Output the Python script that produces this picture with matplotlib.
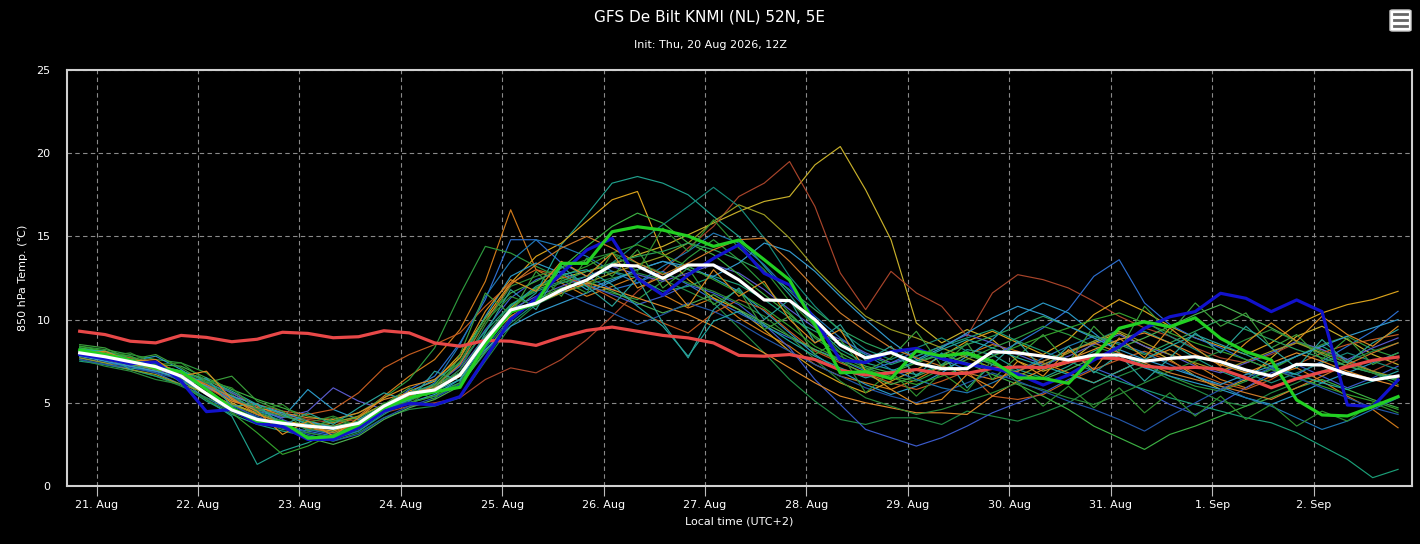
import pandas as pd
import matplotlib
matplotlib.use("Agg")
import matplotlib.pyplot as plt
import matplotlib.dates as mdates
from matplotlib.patches import FancyBboxPatch

plt.rcParams['font.family'] = ['DejaVu Sans', 'Noto Sans CJK SC']

# 6-hourly steps, local time (UTC+2), 20 Aug 20h .. 2 Sep 20h
times = pd.date_range("2026-08-20 20:00", periods=53, freq="6h")

# climatology (red)
clim = [9.3, 9.1, 8.7, 8.6, 9.05, 8.93, 8.67, 8.82, 9.24, 9.17, 8.91, 8.97, 9.33,
        9.2, 8.6, 8.4, 8.75, 8.7, 8.45, 8.95, 9.35, 9.55, 9.3, 9.05, 8.9, 8.6,
        7.85, 7.8, 7.9, 7.6, 6.97, 6.67, 6.8, 7.0, 6.75, 6.77, 7.07, 7.15, 7.12,
        7.45, 7.72, 7.65, 7.2, 7.07, 7.13, 7.03, 6.5, 5.9, 6.45, 6.85, 7.15, 7.55, 7.75]

# ensemble mean (white)
mean = [8.0, 7.77, 7.47, 7.17, 6.6, 5.55, 4.57, 4.0, 3.77, 3.6, 3.47, 3.77, 4.8,
        5.55, 5.77, 6.67, 8.77, 10.58, 10.98, 11.78, 12.38, 13.28, 13.22, 12.48, 13.28, 13.28,
        12.38, 11.18, 11.14, 10.0, 8.47, 7.7, 8.02, 7.37, 7.05, 7.05, 8.07, 8.0, 7.8,
        7.57, 7.87, 7.87, 7.5, 7.67, 7.77, 7.47, 6.97, 6.61, 7.31, 7.27, 6.73, 6.37, 6.61]

# operational run (green)
oper = [8.17, 7.9, 7.55, 7.07, 6.87, 5.8, 4.67, 3.9, 3.87, 2.87, 2.97, 3.67, 4.7,
        5.3, 5.67, 5.93, 8.5, 10.45, 10.98, 13.38, 13.38, 15.28, 15.58, 15.38, 15.02, 14.4,
        14.78, 13.6, 12.38, 9.7, 6.8, 6.87, 6.45, 8.12, 7.81, 7.99, 7.5, 6.5, 6.47,
        6.17, 7.77, 9.48, 9.87, 9.57, 10.11, 8.87, 8.07, 7.57, 5.17, 4.27, 4.21, 4.77, 5.37]

# control run (blue)
ctrl = [7.9, 7.65, 7.35, 7.45, 6.3, 4.47, 4.6, 3.77, 3.57, 2.8, 2.8, 3.5, 4.5,
        4.97, 4.87, 5.37, 7.67, 10.0, 11.28, 12.78, 14.18, 14.88, 12.48, 11.48, 12.68, 13.68,
        14.5, 12.78, 12.08, 10.0, 7.57, 7.42, 8.07, 8.27, 7.67, 7.32, 7.07, 6.72, 6.07,
        6.67, 7.57, 8.37, 9.48, 10.17, 10.48, 11.58, 11.28, 10.48, 11.18, 10.48, 4.87, 4.77, 6.37]

# ensemble members
m01 = [8.3, 8.0, 7.8, 7.2, 6.4, 5.2, 4.2, 1.3, 2.1, 2.6, 3.3, 3.9, 4.6,
       5.3, 5.6, 6.2, 8.4, 10.4, 11.6, 14.5, 16.3, 18.2, 18.6, 18.2, 17.5, 16.2,
       15.0, 13.2, 11.5, 9.6, 8.2, 7.4, 7.0, 6.7, 7.3, 8.2, 7.9, 7.0, 6.5,
       7.2, 8.1, 8.8, 9.3, 8.6, 7.7, 6.9, 6.3, 7.1, 7.8, 8.4, 7.6, 6.9, 6.4]
m02 = [8.1, 7.6, 7.2, 6.9, 6.5, 6.0, 5.0, 4.3, 3.9, 3.7, 3.5, 3.9, 4.8,
       5.6, 6.0, 6.8, 8.9, 10.7, 11.9, 12.5, 12.9, 13.3, 13.9, 14.4, 15.1, 15.8,
       16.5, 17.1, 17.4, 19.3, 20.4, 17.8, 14.8, 9.8, 8.6, 9.4, 8.8, 7.5, 6.9,
       7.4, 8.6, 9.2, 8.4, 7.6, 6.6, 5.8, 6.4, 7.7, 9.0, 9.6, 8.8, 7.9, 7.3]
m03 = [7.9, 7.6, 7.4, 7.0, 6.7, 5.9, 5.1, 4.6, 4.3, 4.0, 3.8, 4.0, 4.4,
       4.8, 5.0, 5.3, 6.4, 7.1, 6.8, 7.6, 8.8, 10.2, 11.7, 12.9, 14.3, 15.6,
       17.4, 18.2, 19.5, 16.8, 12.8, 10.6, 12.9, 11.6, 10.8, 9.0, 11.6, 12.7, 12.4,
       11.9, 11.1, 10.2, 9.5, 9.0, 8.3, 7.7, 7.4, 7.9, 8.6, 8.2, 7.5, 6.9, 7.6]
m04 = [8.2, 8.0, 7.5, 7.3, 6.9, 6.4, 5.6, 4.8, 4.2, 3.9, 3.6, 4.2, 5.4,
       6.6, 7.6, 9.4, 12.3, 16.6, 13.0, 12.2, 11.4, 12.0, 12.6, 11.5, 10.7, 11.3,
       10.1, 9.2, 8.4, 7.3, 6.6, 6.2, 5.8, 6.4, 7.2, 7.9, 8.5, 8.1, 7.4,
       6.8, 6.2, 6.9, 7.6, 8.2, 7.3, 6.4, 5.9, 6.6, 7.1, 6.3, 5.4, 4.6, 3.5]
m05 = [8.0, 7.8, 7.4, 7.1, 6.6, 5.6, 4.9, 4.4, 3.9, 3.5, 3.3, 3.8, 4.9,
       5.7, 6.3, 7.9, 10.1, 12.2, 13.8, 14.6, 15.9, 17.2, 17.7, 14.0, 12.4, 11.3,
       10.6, 9.4, 8.1, 7.0, 6.2, 5.6, 6.3, 7.0, 7.8, 8.7, 9.3, 8.6, 7.9,
       8.8, 10.3, 11.2, 10.5, 9.6, 8.9, 8.4, 7.9, 8.6, 9.7, 10.4, 10.9, 11.2, 11.7]
m06 = [7.7, 7.4, 7.2, 6.8, 6.1, 5.3, 4.5, 4.0, 3.6, 3.3, 3.0, 3.5, 4.6,
       5.8, 6.6, 8.6, 11.2, 14.8, 14.8, 13.4, 12.6, 11.8, 12.2, 12.9, 12.1, 11.2,
       10.4, 9.6, 8.9, 8.2, 7.6, 6.9, 7.4, 8.1, 7.6, 7.0, 7.8, 8.6, 9.5,
       10.6, 12.6, 13.6, 11.0, 9.7, 8.9, 8.3, 7.6, 7.0, 6.7, 7.5, 8.4, 9.3, 10.5]
m07 = [8.4, 8.2, 7.9, 7.6, 7.4, 6.8, 5.5, 4.4, 3.8, 3.6, 3.9, 4.4, 5.3,
       6.4, 8.3, 11.5, 14.4, 14.0, 13.2, 12.5, 12.0, 11.6, 11.2, 12.3, 13.7, 14.8,
       13.6, 12.1, 10.4, 8.9, 7.8, 7.1, 6.6, 6.3, 7.0, 7.6, 8.3, 8.9, 9.6,
       9.1, 8.4, 7.9, 7.3, 6.6, 6.0, 5.7, 6.3, 7.0, 7.8, 8.5, 9.0, 8.2, 7.7]
m08 = [7.6, 7.3, 7.0, 6.6, 6.0, 5.3, 4.7, 4.1, 3.5, 3.0, 2.7, 3.2, 4.1,
       4.6, 4.8, 5.3, 7.5, 9.6, 10.9, 11.6, 12.1, 12.5, 12.8, 12.4, 11.7, 11.0,
       9.5, 8.0, 6.4, 5.1, 4.0, 3.7, 4.1, 4.1, 3.7, 4.5, 4.2, 3.9, 4.4,
       5.0, 5.9, 6.6, 7.2, 6.4, 5.8, 5.1, 4.8, 5.6, 6.2, 6.9, 7.5, 8.1, 8.6]
m09 = [7.8, 7.6, 7.3, 7.0, 6.7, 6.2, 5.6, 4.7, 4.0, 3.4, 3.1, 3.6, 4.7,
       5.4, 6.0, 7.2, 9.4, 11.3, 12.4, 12.9, 12.1, 11.5, 10.9, 11.4, 12.1, 11.6,
       10.9, 9.7, 8.3, 6.4, 4.9, 3.4, 2.9, 2.4, 2.9, 3.6, 4.4, 5.0, 5.6,
       6.4, 7.1, 6.5, 5.7, 4.9, 4.3, 5.0, 5.9, 6.8, 7.3, 6.6, 5.9, 6.5, 7.2]
m10 = [8.0, 7.7, 7.5, 7.8, 7.0, 6.0, 5.2, 4.5, 4.1, 5.8, 4.6, 4.0, 4.8,
       5.6, 6.4, 7.4, 10.2, 12.6, 13.4, 12.8, 11.8, 12.4, 13.0, 13.5, 13.2, 12.5,
       11.7, 10.5, 9.2, 7.9, 6.9, 6.1, 5.5, 6.0, 6.8, 7.8, 8.8, 10.2, 11.0,
       10.4, 9.2, 8.0, 7.1, 6.6, 6.2, 5.8, 5.3, 4.9, 5.5, 6.2, 6.8, 7.4, 8.0]
m11 = [7.9, 7.7, 7.3, 7.0, 6.6, 5.9, 5.3, 4.6, 4.1, 4.5, 5.9, 5.1, 4.6,
       5.2, 5.8, 7.0, 9.0, 10.6, 11.4, 12.0, 12.6, 13.2, 12.7, 12.3, 12.8, 13.3,
       12.8, 11.8, 10.6, 9.5, 8.8, 8.0, 7.4, 7.8, 8.4, 9.1, 8.6, 7.9, 7.3,
       7.8, 8.5, 9.1, 8.4, 7.9, 7.2, 6.8, 7.4, 8.0, 8.7, 8.2, 7.6, 8.3, 8.9]
m12 = [8.3, 8.1, 7.7, 7.3, 7.2, 6.5, 5.8, 5.2, 4.7, 4.2, 3.9, 4.1, 4.9,
       5.5, 6.1, 7.7, 10.1, 11.6, 12.3, 13.1, 14.4, 15.6, 16.4, 15.8, 14.6, 13.9,
       12.7, 11.5, 10.3, 9.0, 8.0, 7.2, 6.8, 7.4, 7.9, 7.4, 6.7, 6.1, 5.4,
       4.6, 3.6, 2.9, 2.2, 3.1, 3.6, 4.2, 4.8, 5.3, 5.9, 6.4, 5.8, 5.2, 4.7]
m13 = [7.5, 7.3, 7.0, 6.6, 6.1, 5.1, 4.3, 3.7, 3.3, 3.0, 2.8, 3.3, 4.3,
       5.2, 5.9, 7.4, 9.3, 10.9, 11.7, 12.2, 12.6, 12.9, 12.5, 11.7, 12.0, 12.6,
       12.1, 11.2, 10.1, 9.3, 8.6, 7.9, 7.3, 7.8, 8.4, 8.9, 9.4, 8.7, 8.1,
       7.5, 6.9, 6.3, 5.8, 5.3, 4.9, 4.5, 4.1, 3.8, 3.2, 2.4, 1.6, 0.5, 1.0]
m14 = [8.1, 7.9, 7.7, 7.4, 6.8, 6.1, 5.4, 4.9, 4.5, 4.3, 4.6, 5.6, 7.1,
       7.9, 8.5, 9.2, 10.8, 12.2, 13.0, 12.6, 12.1, 11.3, 10.5, 9.8, 9.2, 10.4,
       11.2, 10.6, 9.3, 8.1, 7.4, 6.8, 6.2, 5.8, 6.3, 6.9, 5.4, 5.2, 5.5,
       6.3, 7.0, 7.6, 8.1, 7.5, 6.8, 6.2, 5.8, 6.4, 7.3, 8.0, 8.5, 8.8, 9.1]
m15 = [8.0, 7.9, 7.6, 7.2, 6.8, 6.2, 5.3, 4.5, 3.9, 3.4, 3.2, 3.6, 4.5,
       5.0, 5.4, 6.1, 8.0, 9.8, 11.0, 11.8, 12.4, 13.4, 14.6, 15.7, 16.8, 17.95,
       16.8, 14.9, 12.6, 10.8, 9.3, 8.2, 7.6, 8.3, 8.9, 8.1, 7.3, 6.9, 7.5,
       8.1, 8.7, 9.4, 9.9, 9.0, 8.2, 7.4, 6.8, 6.2, 6.8, 7.4, 8.0, 7.5, 7.0]
m16 = [7.9, 7.5, 7.1, 6.9, 6.4, 5.5, 4.9, 4.1, 3.7, 3.2, 2.9, 3.3, 4.4,
       5.3, 6.2, 8.5, 11.4, 13.5, 14.8, 14.4, 13.8, 12.9, 12.2, 13.2, 14.1, 15.2,
       14.6, 13.3, 11.7, 10.2, 8.9, 7.9, 7.0, 6.4, 5.9, 5.6, 6.2, 6.9, 7.7,
       8.4, 9.0, 8.6, 8.0, 7.3, 6.6, 6.0, 5.3, 4.8, 4.1, 3.4, 3.9, 4.6, 5.3]
m17 = [8.2, 7.9, 7.3, 7.0, 6.3, 5.5, 4.6, 3.9, 3.5, 2.9, 2.5, 3.0, 4.0,
       4.7, 5.2, 6.0, 8.1, 10.0, 11.2, 11.9, 12.3, 11.7, 11.0, 10.4, 10.9, 11.5,
       10.6, 9.8, 9.0, 8.2, 7.5, 6.7, 6.1, 6.6, 7.2, 7.9, 7.3, 6.8, 6.4,
       7.0, 7.7, 8.3, 8.9, 9.6, 10.3, 10.9, 10.2, 9.5, 8.7, 7.9, 7.2, 6.8, 6.4]
m18 = [7.7, 7.4, 7.0, 6.7, 6.1, 5.6, 4.9, 4.3, 3.8, 3.5, 3.8, 4.2, 4.9,
       5.3, 5.7, 6.6, 8.8, 10.2, 11.0, 11.6, 12.2, 12.8, 13.3, 13.8, 14.6, 15.9,
       16.9, 16.3, 14.9, 13.1, 11.6, 10.2, 9.4, 8.9, 8.3, 7.7, 7.1, 6.6, 7.3,
       8.0, 8.7, 9.3, 8.6, 7.9, 7.4, 6.9, 7.5, 8.1, 8.6, 8.0, 7.4, 6.9, 6.5]
m19 = [8.0, 7.8, 7.5, 7.2, 6.9, 6.3, 5.4, 4.6, 4.2, 3.8, 3.6, 3.9, 4.9,
       5.6, 6.1, 6.8, 9.0, 10.9, 11.8, 12.3, 12.9, 13.4, 13.8, 14.1, 14.6, 14.2,
       13.6, 12.9, 11.8, 10.6, 9.4, 8.6, 8.0, 7.5, 7.9, 8.5, 9.0, 9.6, 10.2,
       9.6, 9.0, 8.5, 7.9, 8.6, 9.3, 10.0, 9.4, 8.8, 8.2, 7.7, 7.2, 6.8, 6.3]
m20 = [7.9, 7.7, 7.4, 7.1, 6.8, 6.0, 5.1, 4.7, 4.4, 4.1, 4.0, 4.4, 5.2,
       5.6, 5.9, 6.6, 8.7, 10.2, 11.1, 11.6, 12.2, 11.8, 11.3, 10.8, 10.3, 9.6,
       8.8, 8.0, 7.1, 6.2, 5.4, 5.0, 4.7, 4.4, 4.4, 4.3, 5.4, 6.3, 7.0,
       7.6, 8.2, 8.8, 9.2, 8.6, 7.9, 7.3, 6.8, 7.4, 8.0, 7.5, 6.9, 6.4, 6.0]
m21 = [7.8, 7.5, 7.2, 6.9, 6.5, 6.0, 5.4, 4.9, 4.4, 3.9, 3.5, 3.7, 4.5,
       5.0, 5.5, 6.4, 8.2, 9.6, 10.4, 11.0, 11.6, 12.3, 13.0, 13.5, 13.0, 12.6,
       13.4, 14.6, 14.1, 12.9, 11.4, 10.0, 8.7, 7.6, 8.3, 9.2, 10.1, 10.8, 10.3,
       9.6, 8.9, 8.2, 7.6, 7.1, 6.6, 6.1, 6.7, 7.2, 7.8, 8.4, 9.0, 9.5, 10.0]
m22 = [8.4, 8.1, 7.8, 7.2, 6.5, 5.6, 4.4, 3.2, 1.9, 2.4, 3.1, 3.8, 4.6,
       5.0, 5.4, 6.2, 8.5, 10.6, 11.9, 12.6, 13.2, 14.0, 14.5, 13.9, 13.2, 12.4,
       11.6, 10.7, 9.6, 8.4, 7.6, 7.0, 6.5, 6.1, 6.6, 7.2, 7.8, 8.4, 9.0,
       9.5, 10.0, 10.4, 9.8, 9.2, 8.6, 8.1, 7.6, 7.0, 6.5, 6.0, 5.5, 5.1, 4.6]
m23 = [7.6, 7.2, 6.9, 6.4, 6.1, 5.2, 4.4, 3.9, 3.4, 3.2, 2.9, 3.4, 4.5,
       5.1, 5.8, 7.0, 9.7, 12.0, 12.6, 13.1, 13.6, 14.0, 13.4, 12.8, 12.2, 11.7,
       11.0, 10.2, 9.0, 7.6, 6.3, 5.3, 4.8, 4.3, 4.6, 5.1, 5.6, 6.2, 5.8,
       5.3, 4.9, 5.5, 6.2, 6.9, 7.5, 8.1, 8.8, 9.4, 8.7, 8.1, 7.4, 6.8, 6.1]
m24 = [8.0, 7.8, 7.4, 7.0, 6.8, 6.1, 5.3, 4.3, 3.8, 3.5, 3.2, 3.8, 4.8,
       5.4, 6.0, 7.3, 9.9, 12.1, 13.3, 14.3, 15.0, 14.3, 13.4, 12.7, 13.4, 14.2,
       14.8, 14.9, 13.5, 11.9, 10.4, 9.3, 8.3, 7.7, 7.2, 6.8, 6.4, 6.9, 7.5,
       8.1, 8.6, 8.0, 7.4, 6.8, 6.4, 6.0, 5.6, 5.2, 5.9, 6.6, 7.3, 8.0, 8.6]
m25 = [7.6, 7.3, 7.1, 6.8, 6.4, 5.6, 4.8, 4.2, 3.6, 3.1, 2.7, 3.1, 4.1,
       4.8, 5.3, 6.1, 8.3, 10.1, 11.1, 11.7, 11.0, 10.4, 9.7, 10.3, 11.0, 10.5,
       9.8, 8.9, 8.1, 7.3, 6.6, 5.9, 5.4, 5.0, 5.6, 6.2, 6.8, 6.3, 5.7,
       5.1, 4.6, 4.0, 3.3, 4.2, 5.0, 5.8, 6.5, 7.1, 6.5, 5.9, 5.3, 4.7, 4.3]
m26 = [8.2, 8.1, 7.6, 7.3, 6.9, 6.4, 5.7, 4.9, 4.3, 3.7, 3.4, 3.8, 4.6,
       5.2, 5.7, 6.4, 8.6, 10.8, 12.0, 12.7, 13.0, 12.1, 10.8, 9.6, 7.8, 9.9,
       10.5, 9.7, 8.7, 7.8, 7.1, 6.5, 6.9, 7.5, 8.2, 8.8, 8.3, 7.7, 7.2,
       6.7, 6.2, 6.9, 7.6, 8.4, 9.1, 8.5, 7.9, 7.2, 6.7, 6.2, 5.8, 6.3, 6.9]
m27 = [8.5, 8.3, 7.6, 7.9, 7.1, 6.2, 6.6, 5.1, 4.5, 3.3, 4.1, 3.5, 4.9,
       5.9, 5.2, 7.9, 11.6, 10.3, 12.9, 11.4, 13.7, 12.6, 14.2, 11.9, 13.1, 10.9,
       11.8, 9.4, 10.2, 7.9, 8.8, 6.9, 7.7, 9.3, 7.2, 8.6, 6.4, 7.8, 9.1,
       7.4, 9.6, 8.1, 10.8, 9.2, 11.0, 9.6, 10.4, 8.3, 9.1, 7.6, 8.9, 7.3, 8.0]
m28 = [7.8, 7.9, 7.0, 7.4, 6.2, 6.5, 4.8, 4.9, 3.6, 4.4, 3.7, 4.7, 5.6,
       5.1, 6.9, 6.3, 9.2, 11.8, 10.6, 13.2, 12.0, 10.8, 12.5, 9.8, 7.7, 10.6,
       11.9, 10.0, 11.2, 8.6, 9.7, 7.5, 8.4, 6.6, 8.0, 5.9, 7.3, 8.7, 7.0,
       8.4, 6.8, 7.9, 6.3, 7.7, 9.2, 8.0, 9.6, 8.3, 7.1, 8.8, 7.4, 8.6, 9.4]
m29 = [8.1, 7.8, 8.0, 7.3, 7.4, 6.3, 5.9, 4.6, 4.9, 3.8, 4.2, 3.6, 5.0,
       4.9, 6.0, 7.5, 9.9, 11.4, 10.8, 12.4, 11.6, 14.0, 12.9, 15.5, 14.1, 16.0,
       14.3, 13.0, 11.1, 9.6, 8.0, 5.6, 6.9, 5.4, 6.8, 5.7, 7.6, 6.2, 4.8,
       6.0, 4.7, 5.9, 4.4, 5.6, 4.2, 5.4, 4.0, 4.9, 3.6, 4.5, 3.9, 5.0, 4.4]
m30 = [7.9, 8.1, 7.5, 7.6, 6.6, 6.9, 5.2, 4.5, 3.1, 3.9, 3.0, 4.1, 5.3,
       6.0, 6.4, 7.7, 10.5, 12.4, 11.7, 13.5, 12.6, 14.0, 11.9, 12.6, 10.8, 13.0,
       11.4, 12.3, 10.0, 8.6, 9.4, 6.9, 5.8, 4.9, 5.2, 6.7, 5.9, 7.5, 6.6,
       8.2, 7.0, 8.9, 7.7, 9.5, 8.3, 7.2, 8.6, 9.8, 8.7, 10.2, 9.1, 8.4, 9.6]

members = [m01, m02, m03, m04, m05, m06, m07, m08, m09, m10, m11, m12, m13, m14, m15,
           m16, m17, m18, m19, m20, m21, m22, m23, m24, m25, m26, m27, m28, m29, m30]
member_colors = ["#1fa08c", "#c8b02a", "#a8442a", "#d07a1a", "#d9a21c", "#2d6fd0",
                 "#2e9a3e", "#238b45", "#3b5bcc", "#2a98c4", "#5a5acc", "#3cb043",
                 "#1b9e77", "#c25b1f", "#168a7a", "#1f77b4", "#4caf50", "#9a9a22",
                 "#2ca25f", "#e08a2a", "#3399cc", "#33a02c", "#2b8c3a", "#cc7a2a",
                 "#2356a8", "#23a6a0", "#3a9d3a", "#2aa198", "#2f8f2f", "#d98a1f"]

fig = plt.figure(figsize=(14.2, 5.44), dpi=100, facecolor="black")
ax = fig.add_axes([67 / 1420, 58 / 544, 1345 / 1420, 416 / 544])
ax.set_facecolor("black")

for vals, col in zip(members, member_colors):
    ax.plot(times, vals, color=col, lw=0.85, zorder=2)

ax.plot(times, clim, color="#e84848", lw=2.3, zorder=3)
ax.plot(times, ctrl, color="#1212cc", lw=2.3, zorder=4)
ax.plot(times, oper, color="#22d022", lw=2.3, zorder=5)
ax.plot(times, mean, color="white", lw=2.3, zorder=6)

x0 = pd.Timestamp("2026-08-21 00:00")
ax.set_xlim(x0 - pd.Timedelta(hours=7.0), x0 + pd.Timedelta(hours=311.3))
ax.set_ylim(0, 25)

ax.xaxis.set_major_locator(mdates.DayLocator())
ax.xaxis.set_major_formatter(
    plt.FuncFormatter(lambda v, pos: "%d. %s" % (mdates.num2date(v).day,
                                                 mdates.num2date(v).strftime("%b"))))
ax.set_yticks([0, 5, 10, 15, 20, 25])

ax.grid(True, color="#8a8a8a", lw=0.8, ls=(0, (4, 3)))
ax.set_axisbelow(True)
for s in ax.spines.values():
    s.set_color("#d0d0d0")
    s.set_linewidth(1.5)

ax.tick_params(axis="x", colors="#bdbdbd", length=7, width=0.8, direction="out",
               labelcolor="white", labelsize=8, pad=3)
ax.tick_params(axis="y", length=0, labelcolor="white", labelsize=8, pad=12)

ax.set_xlabel("Local time (UTC+2)", color="white", fontsize=8, labelpad=5)
ax.set_ylabel("850 hPa Temp. (\u2103)", color="white", fontsize=8, labelpad=6)

fig.text(0.5, 1 - 17 / 544, "GFS De Bilt KNMI (NL) 52N, 5E", color="white",
         fontsize=11, ha="center", va="center")
fig.text(0.5, 1 - 45 / 544, "Init: Thu, 20 Aug 2026, 12Z", color="white",
         fontsize=8, ha="center", va="center")

# menu button
btn = FancyBboxPatch((1390 / 1420, 1 - 31 / 544), 21 / 1420, 21 / 544,
                     boxstyle="round,pad=0,rounding_size=0.002",
                     transform=fig.transFigure, facecolor="white", edgecolor="#cccccc")
fig.patches.append(btn)
for yy in (14, 20, 26):
    fig.lines.append(plt.Line2D([1394 / 1420, 1407 / 1420], [1 - yy / 544, 1 - yy / 544],
                                transform=fig.transFigure, color="#666666", lw=2))

fig.savefig("out.png", dpi=100, facecolor="black")
